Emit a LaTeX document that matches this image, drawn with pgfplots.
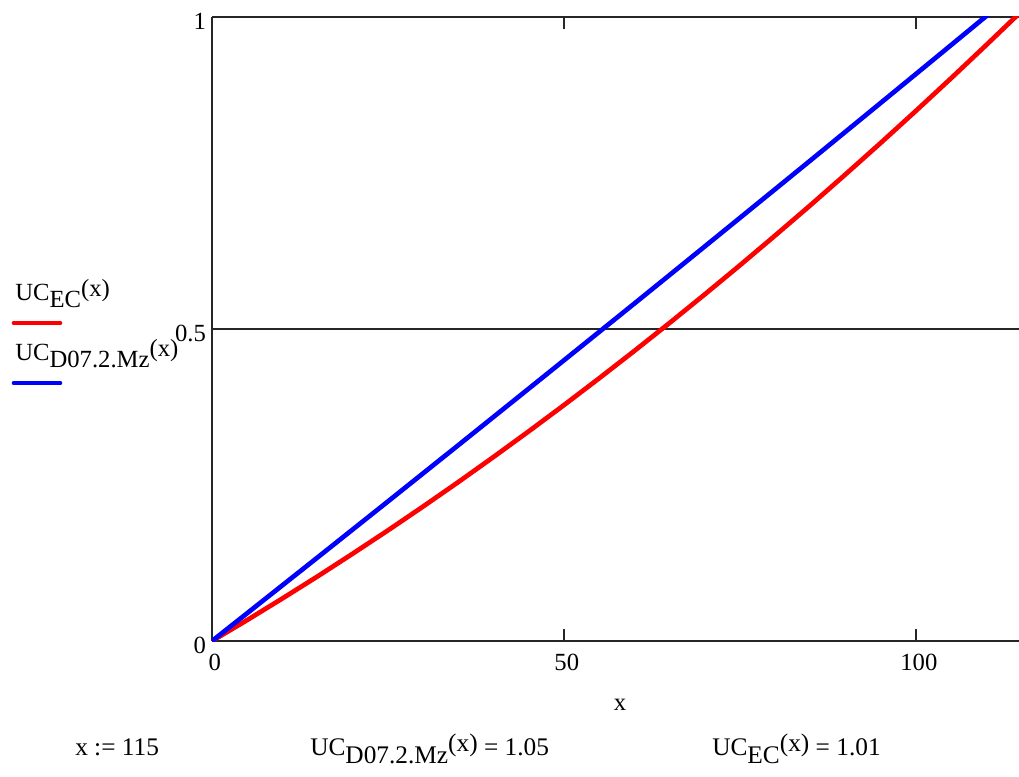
\documentclass[border=0pt]{standalone}
\usepackage{pgfplots}
\pgfplotsset{compat=1.18}
\usepackage{fontspec}
\setmainfont{Liberation Serif}
\newcommand{\UCf}[1]{UC\raisebox{-0.32em}{#1}\raisebox{0.15em}{(x)}}
\begin{document}
\begin{tikzpicture}
\begin{axis}[
  scale only axis,
  width=605.25pt, height=468pt,
  xmin=0, xmax=114.6, ymin=0, ymax=1,
  axis x line=box, axis y line=left,
  axis line style={-, line width=1.4pt, black!85},
  xtick={0,50,100}, ytick={0,0.5,1},
  xticklabels={0,50,100}, yticklabels={0,0.5,1},
  tick align=inside,
  major tick length=9pt,
  tick style={line width=1.4pt, black!85},
  ymajorgrids,
  grid style={line width=1.4pt, black!85},
  tick label style={font=\fontsize{18.5}{22}\selectfont},
  xticklabel style={yshift=-6pt, xshift=2pt},
  yticklabel style={xshift=-1pt, yshift=-3pt},
  clip=true,
]
\addplot[red, line width=3.5pt] coordinates {
(0,0) (5,0.0336) (10,0.0682) (15,0.1036) (20,0.1401) (25,0.1774) (30,0.2157)
(35,0.2549) (40,0.2951) (45,0.3362) (50,0.3782) (55,0.4212) (60,0.4651)
(65,0.5099) (70,0.5557) (75,0.6024) (80,0.6501) (85,0.6986) (90,0.7482)
(95,0.7986) (100,0.8500) (105,0.9023) (110,0.9556) (115,1.0097)};
\addplot[blue, line width=3.5pt] coordinates {
(0,0) (5,0.0446) (10,0.0893) (15,0.1340) (20,0.1789) (25,0.2238) (30,0.2689)
(35,0.3140) (40,0.3593) (45,0.4046) (50,0.4500) (55,0.4955) (60,0.5410)
(65,0.5867) (70,0.6325) (75,0.6784) (80,0.7243) (85,0.7703) (90,0.8165)
(95,0.8627) (100,0.9090) (105,0.9554) (110,1.0019) (115,1.0484)};
\end{axis}
\begin{scope}[x=0.75pt, y=-0.75pt, xshift=-159pt, yshift=480.75pt]
  \node[anchor=base, font=\fontsize{18.5}{22}\selectfont] at (620,710) {x};
  % legend
  \node[anchor=base west, inner sep=0pt, font=\fontsize{18.5}{22}\selectfont] at (15,300) {\UCf{EC}};
  \draw[red, line width=3.5pt, line cap=round] (14,323) -- (60,323);
  \node[anchor=base west, inner sep=0pt, font=\fontsize{18.5}{22}\selectfont] at (15,360) {\UCf{D07.2.Mz}};
  \draw[blue, line width=3.5pt, line cap=round] (14,383) -- (60,383);
  % bottom evaluations
  \node[anchor=base west, inner sep=0pt, font=\fontsize{19}{22}\selectfont] at (75,755) {x := 115};
  \node[anchor=base west, inner sep=0pt, font=\fontsize{19}{22}\selectfont] at (310,755) {\UCf{D07.2.Mz} = 1.05};
  \node[anchor=base west, inner sep=0pt, font=\fontsize{19}{22}\selectfont] at (712,755) {\UCf{EC} = 1.01};
  \pgfresetboundingbox
  \path[use as bounding box] (0,0) rectangle (1019,776);
\end{scope}
\end{tikzpicture}
\end{document}
